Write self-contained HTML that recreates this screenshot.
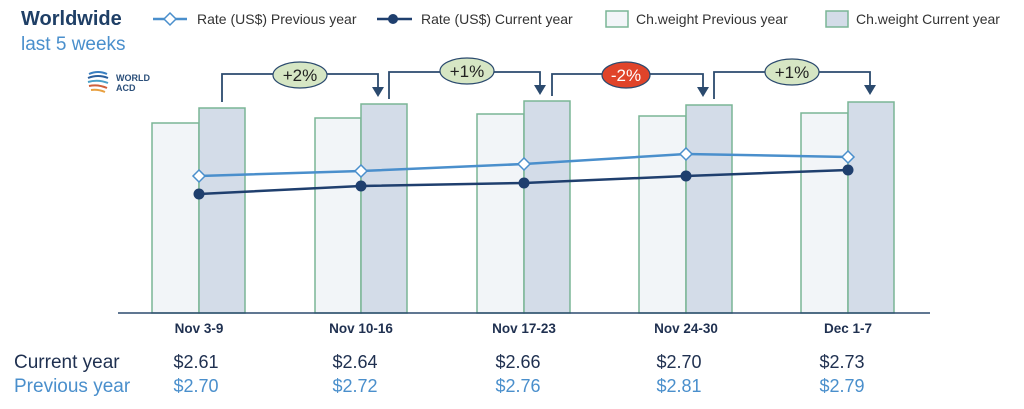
<!DOCTYPE html>
<html><head><meta charset="utf-8"><style>
html,body{margin:0;padding:0;background:#fff;}
svg{display:block;font-family:"Liberation Sans",sans-serif;}
</style></head><body>
<svg width="1024" height="409" viewBox="0 0 1024 409" xmlns="http://www.w3.org/2000/svg">
<text x="21" y="25" font-size="20" font-weight="bold" fill="#1f3f66">Worldwide</text>
<text x="21" y="50" font-size="19" fill="#4a8fcc">last 5 weeks</text>
<!-- logo -->
<g fill="none" stroke-width="2">
<path d="M89 74 q9 -4 18 0" stroke="#3a7fc0"/>
<path d="M88 78 q10 -4 20 0" stroke="#2b5f9c"/>
<path d="M88 82 q10 -3 20 1" stroke="#4aa0c8"/>
<path d="M89 86 q9 -2 18 2" stroke="#d0603a"/>
<path d="M91 90 q7 -1 14 2" stroke="#e8a040"/>
</g>
<text x="116" y="81" font-size="9" fill="#2b4f7a" font-weight="bold">WORLD</text>
<text x="116" y="91" font-size="9" fill="#2b4f7a" font-weight="bold">ACD</text>
<!-- legend -->
<line x1="153" y1="19" x2="187" y2="19" stroke="#4a8fcc" stroke-width="2.5"/>
<path d="M170 13 l6 6 -6 6 -6 -6z" fill="#fff" stroke="#4a8fcc" stroke-width="1.5"/>
<text x="197" y="24" font-size="14" fill="#333">Rate (US$) Previous year</text>
<line x1="377" y1="19" x2="412" y2="19" stroke="#1f3f6e" stroke-width="2.5"/>
<circle cx="393" cy="19" r="5" fill="#1f3f6e"/>
<text x="421" y="24" font-size="14" fill="#333">Rate (US$) Current year</text>
<rect x="606" y="11" width="22" height="16" fill="#f2f5f8" stroke="#7ab596" stroke-width="1.5"/>
<text x="636" y="24" font-size="14" fill="#333">Ch.weight Previous year</text>
<rect x="826" y="11" width="22" height="16" fill="#d3dce8" stroke="#7ab596" stroke-width="1.5"/>
<text x="856" y="24" font-size="14" fill="#333">Ch.weight Current year</text>
<!-- bars -->
<g stroke="#7ab596" stroke-width="1.5">
<rect x="152" y="123" width="47" height="190" fill="#f2f5f8"/>
<rect x="199" y="108" width="46" height="205" fill="#d3dce8"/>
<rect x="315" y="118" width="46" height="195" fill="#f2f5f8"/>
<rect x="361" y="104" width="46" height="209" fill="#d3dce8"/>
<rect x="477" y="114" width="47" height="199" fill="#f2f5f8"/>
<rect x="524" y="101" width="46" height="212" fill="#d3dce8"/>
<rect x="639" y="116" width="47" height="197" fill="#f2f5f8"/>
<rect x="686" y="105" width="46" height="208" fill="#d3dce8"/>
<rect x="801" y="113" width="47" height="200" fill="#f2f5f8"/>
<rect x="848" y="102" width="46" height="211" fill="#d3dce8"/>
</g>
<line x1="118" y1="313" x2="930" y2="313" stroke="#2b4a6e" stroke-width="1.5"/>
<!-- lines -->
<polyline points="199,194 361,186 524,183 686,176 848,170" fill="none" stroke="#1f3f6e" stroke-width="2.5"/>
<g fill="#1f3f6e"><circle cx="199" cy="194" r="5.5"/><circle cx="361" cy="186" r="5.5"/><circle cx="524" cy="183" r="5.5"/><circle cx="686" cy="176" r="5.5"/><circle cx="848" cy="170" r="5.5"/></g>
<polyline points="199,176 361,171 524,164 686,154 848,157" fill="none" stroke="#4a8fcc" stroke-width="2.5"/>
<g fill="#fff" stroke="#4a8fcc" stroke-width="1.5">
<path d="M199 170 l6 6 -6 6 -6 -6z"/><path d="M361 165 l6 6 -6 6 -6 -6z"/><path d="M524 158 l6 6 -6 6 -6 -6z"/><path d="M686 148 l6 6 -6 6 -6 -6z"/><path d="M848 151 l6 6 -6 6 -6 -6z"/>
</g>
<!-- brackets -->
<g fill="none" stroke="#2b4a6e" stroke-width="1.8">
<polyline points="222,102 222,74 378,74 378,89"/>
<polyline points="389,99 389,72 540,72 540,87"/>
<polyline points="552,96 552,74 703,74 703,89"/>
<polyline points="714,99 714,72 870,72 870,87"/>
</g>
<g fill="#2b4a6e">
<path d="M372 87 h12 l-6 10z"/><path d="M534 85 h12 l-6 10z"/><path d="M697 87 h12 l-6 10z"/><path d="M864 85 h12 l-6 10z"/>
</g>
<g stroke="#2b4a6e" stroke-width="1.2">
<ellipse cx="300" cy="75" rx="27" ry="13" fill="#d6e6c4"/>
<ellipse cx="467" cy="71" rx="27" ry="13" fill="#d6e6c4"/>
<ellipse cx="626" cy="75" rx="24" ry="13" fill="#e0442a"/>
<ellipse cx="792" cy="72" rx="27" ry="13" fill="#d6e6c4"/>
</g>
<g font-size="17" text-anchor="middle">
<text x="300" y="81" fill="#222">+2%</text>
<text x="467" y="77" fill="#222">+1%</text>
<text x="626" y="81" fill="#fff">-2%</text>
<text x="792" y="78" fill="#222">+1%</text>
</g>
<!-- x labels -->
<g font-size="13.5" font-weight="bold" fill="#1f3050" text-anchor="middle">
<text x="199" y="333">Nov 3-9</text><text x="361" y="333">Nov 10-16</text><text x="524" y="333">Nov 17-23</text><text x="686" y="333">Nov 24-30</text><text x="848" y="333">Dec 1-7</text>
</g>
<g font-size="19">
<text x="14" y="368" fill="#1f3050">Current year</text>
<text x="14" y="392" fill="#4a8fcc">Previous year</text>
</g>
<g font-size="18" text-anchor="middle">
<g fill="#1f3050"><text x="196" y="368">$2.61</text><text x="355" y="368">$2.64</text><text x="518" y="368">$2.66</text><text x="679" y="368">$2.70</text><text x="842" y="368">$2.73</text></g>
<g fill="#4a8fcc"><text x="196" y="392">$2.70</text><text x="355" y="392">$2.72</text><text x="518" y="392">$2.76</text><text x="679" y="392">$2.81</text><text x="842" y="392">$2.79</text></g>
</g>
</svg>
</body></html>
